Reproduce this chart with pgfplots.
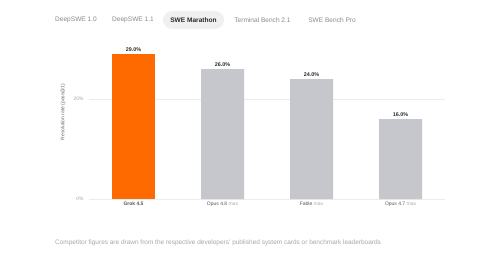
\documentclass[border=0pt]{standalone}
\usepackage{pgfplots}
\pgfplotsset{compat=1.18}
\usepackage{fontspec}
\setmainfont{Liberation Sans}
\definecolor{barorange}{HTML}{FF6A00}
\definecolor{bargray}{HTML}{C6C7CD}
\definecolor{gridgray}{HTML}{ECECEC}
\definecolor{tabgray}{HTML}{8A8A8A}
\definecolor{textdark}{HTML}{2A2A2A}
\definecolor{faint}{HTML}{A8A8A8}
\definecolor{pill}{HTML}{F0F0F0}
\begin{document}
\begin{tikzpicture}[x=1bp,y=1bp]
\useasboundingbox[fill=white] (0,0) rectangle (500,270);
\coordinate (AxOrigin) at (89,71);
% tabs
\fill[pill,rounded corners=9bp] (163,241) rectangle (224,259);
\node[font=\fontsize{6.6}{8}\selectfont,text=tabgray] at (76,250) {DeepSWE 1.0};
\node[font=\fontsize{6.6}{8}\selectfont,text=tabgray] at (133,250) {DeepSWE 1.1};
\node[font=\fontsize{6.6}{8}\selectfont\bfseries,text=textdark] at (193.5,250) {SWE Marathon};
\node[font=\fontsize{6.6}{8}\selectfont,text=tabgray] at (262.5,250) {Terminal Bench 2.1};
\node[font=\fontsize{6.6}{8}\selectfont,text=tabgray] at (332,250) {SWE Bench Pro};
% footnote
\node[anchor=west,inner sep=0pt,font=\fontsize{6.5}{8}\selectfont,text=faint] at (55,27) {Competitor figures are drawn from the respective developers' published system cards or benchmark leaderboards};
\begin{axis}[
  at={(AxOrigin)}, anchor=south west,
  scale only axis, width=356bp, height=150bp,
  xmin=-0.5, xmax=3.5, ymin=0, ymax=30,
  clip=false,
  axis line style={draw=none},
  major tick length=0pt,
  ytick={0,20},
  yticklabels={0\%,20\%},
  yticklabel style={font=\fontsize{5}{6}\selectfont,text=faint,xshift=-2bp},
  ymajorgrids, grid style={gridgray,line width=0.6pt},
  xtick={0,1,2,3},
  xticklabels={{\textbf{Grok 4.5}},{Opus 4.8 \textcolor{faint}{max}},{Fable \textcolor{faint}{max}},{Opus 4.7 \textcolor{faint}{max}}},
  xticklabel style={font=\fontsize{5}{6}\selectfont,text=textdark!80,yshift=1bp},
  ylabel={Resolution rate (pass@1)},
  ylabel style={at={(axis description cs:-0.073,0.58)},anchor=center,font=\fontsize{5}{6}\selectfont,text=textdark!70},
  ybar, bar width=43bp, bar shift=0pt,
  /pgf/number format/assume math mode=true,
  nodes near coords={\pgfmathprintnumber[fixed,fixed zerofill,precision=1,assume math mode=true]{\pgfplotspointmeta}\%},
  nodes near coords style={font=\fontsize{5.4}{6}\selectfont\bfseries,text=textdark,yshift=-1bp},
]
\addplot[fill=barorange,draw=none] coordinates {(0,29)};
\addplot[fill=bargray,draw=none] coordinates {(1,26) (2,24) (3,16)};
\end{axis}
\end{tikzpicture}
\end{document}
